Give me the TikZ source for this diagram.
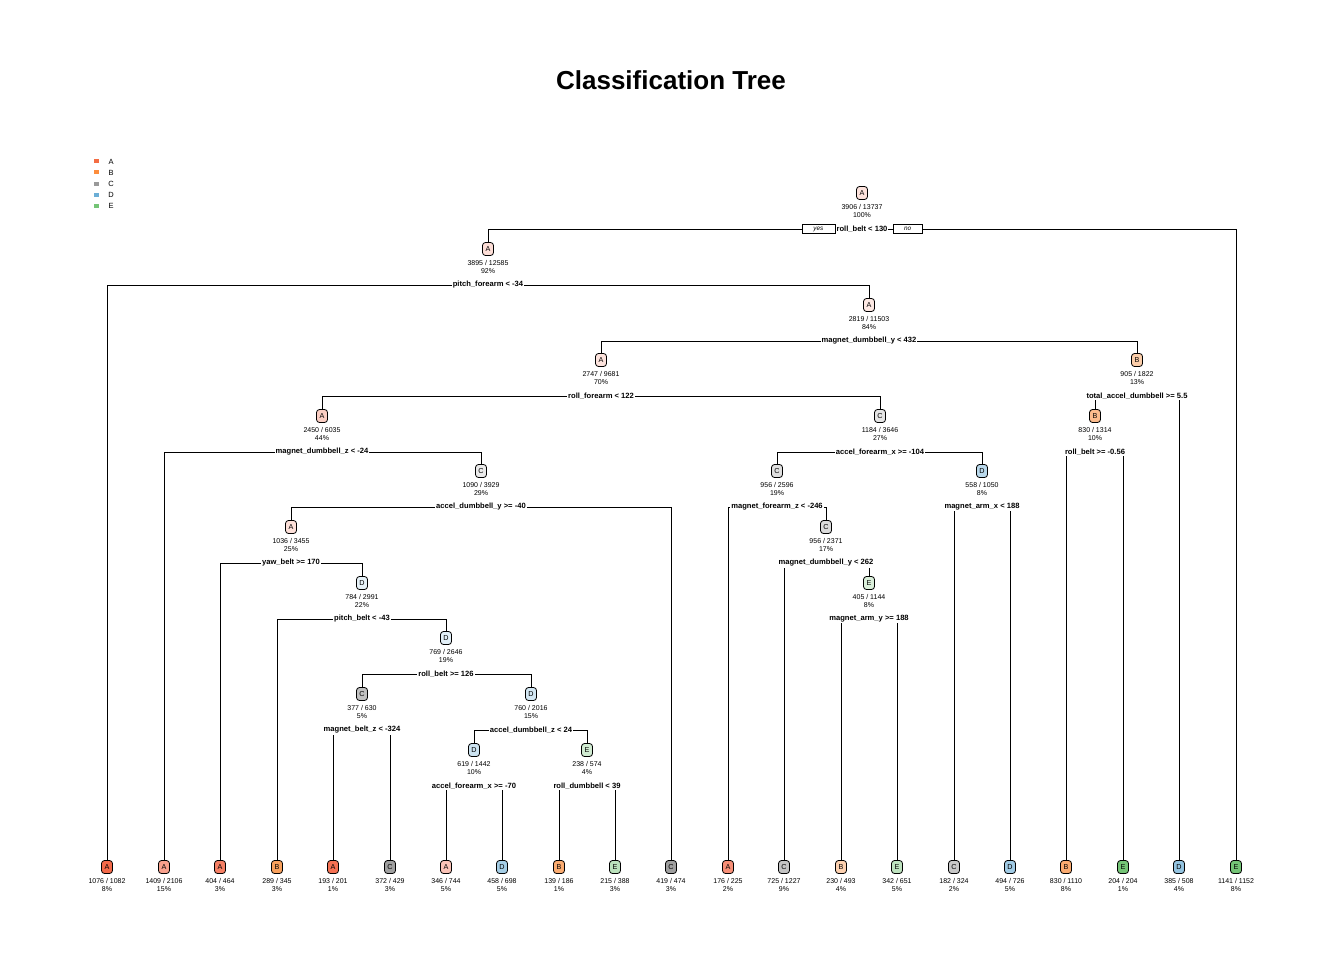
\documentclass[tikz,border=0pt]{standalone}
\usepackage{fontspec}
\setmainfont{Liberation Sans}
\usetikzlibrary{backgrounds}
\definecolor{cA}{HTML}{F46A4A}
\definecolor{cB}{HTML}{F98C3A}
\definecolor{cC}{HTML}{8F8F8F}
\definecolor{cD}{HTML}{6CAED6}
\definecolor{cE}{HTML}{74C476}
\definecolor{lA}{HTML}{F46D43}
\definecolor{lB}{HTML}{FD8D3C}
\definecolor{lC}{HTML}{999999}
\definecolor{lD}{HTML}{6BAED6}
\definecolor{lE}{HTML}{74C476}
\tikzset{
  tbox/.style={draw, rounded corners=3pt, minimum width=11pt, minimum height=13pt,
    inner sep=0pt, line width=0.8pt, font=\fontsize{7.2}{8}\selectfont},
  tnum/.style={inner sep=0pt, font=\fontsize{7}{7.5}\selectfont},
  tsplit/.style={fill=white, inner sep=1pt, font=\bfseries\fontsize{7.6}{8.5}\selectfont},
  tline/.style={line width=0.9pt},
  yn/.style={draw, fill=white, line width=0.8pt, inner sep=0pt, minimum height=9pt,
    font=\itshape\fontsize{6.4}{7}\selectfont},
  legsq/.style={inner sep=0pt, minimum width=5pt, minimum height=4pt},
  legtx/.style={inner sep=0pt, font=\fontsize{7.5}{8}\selectfont}
}
\newcommand\TN[7]{%
  \node[tbox, fill=#5] (#1) at (#2,#3) {#4};
  \node[tnum] (#1n) at (#2,#3+14) {#6};
  \node[tnum] (#1p) at (#2,#3+22) {#7};}
\newcommand\SPL[2]{\node[tsplit] (#1s) at ([yshift=-36pt]#1.center) {#2};}
\newcommand\BR[3]{\draw[tline] (#2.north) -- (#2.north |- #1s.center) -- (#3.north |- #1s.center) -- (#3.north);}
\begin{document}
\begin{tikzpicture}[x=1pt,y=-1pt]
\useasboundingbox (0,0) rectangle (1344,960);
\node[font=\bfseries\fontsize{26}{30}\selectfont] (title) at (671,80) {Classification Tree};
% legend
\foreach \c/\l/\yy in {lA/A/161.5,lB/B/172.5,lC/C/184,lD/D/195,lE/E/206}{
  \node[legsq, fill=\c] (sq\l) at (96,\yy) {};
  \node[legtx] (lg\l) at (111,\yy) {\l};
}
% internal nodes
\TN{n1}{862}{193}{A}{cA!19}{3906 / 13737}{100\%}
\TN{n2}{488}{249}{A}{cA!22}{3895 / 12585}{92\%}
\TN{n5}{869}{305}{A}{cA!15}{2819 / 11503}{84\%}
\TN{n10}{601}{360}{A}{cA!19}{2747 / 9681}{70\%}
\TN{n11}{1137}{360}{B}{cB!43}{905 / 1822}{13\%}
\TN{n20}{322}{416}{A}{cA!33}{2450 / 6035}{44\%}
\TN{n21}{880}{416}{C}{cC!23}{1184 / 3646}{27\%}
\TN{n22}{1095}{416}{B}{cB!58}{830 / 1314}{10\%}
\TN{n41}{481}{471}{C}{cC!18}{1090 / 3929}{29\%}
\TN{n42}{777}{471}{C}{cC!29}{956 / 2596}{19\%}
\TN{n43}{982}{471}{D}{cD!47}{558 / 1050}{8\%}
\TN{n82}{291}{527}{A}{cA!21}{1036 / 3455}{25\%}
\TN{n85}{826}{527}{C}{cC!32}{956 / 2371}{17\%}
\TN{n165}{362}{583}{D}{cD!16}{784 / 2991}{22\%}
\TN{n171}{869}{583}{E}{cE!26}{405 / 1144}{8\%}
\TN{n331}{446}{638}{D}{cD!20}{769 / 2646}{19\%}
\TN{n662}{362}{694}{C}{cC!55}{377 / 630}{5\%}
\TN{n663}{531}{694}{D}{cD!30}{760 / 2016}{15\%}
\TN{n1326}{474}{750}{D}{cD!35}{619 / 1442}{10\%}
\TN{n1327}{587}{750}{E}{cE!33}{238 / 574}{4\%}
% leaves
\TN{n4}{107}{867}{A}{cA!100}{1076 / 1082}{8\%}
\TN{n40}{164}{867}{A}{cA!63}{1409 / 2106}{15\%}
\TN{n164}{220}{867}{A}{cA!85}{404 / 464}{3\%}
\TN{n330}{277}{867}{B}{cB!82}{289 / 345}{3\%}
\TN{n1324}{333}{867}{A}{cA!95}{193 / 201}{1\%}
\TN{n1325}{390}{867}{C}{cC!85}{372 / 429}{3\%}
\TN{n2652}{446}{867}{A}{cA!40}{346 / 744}{5\%}
\TN{n2653}{502}{867}{D}{cD!61}{458 / 698}{5\%}
\TN{n2654}{559}{867}{B}{cB!72}{139 / 186}{1\%}
\TN{n2655}{615}{867}{E}{cE!49}{215 / 388}{3\%}
\TN{n83}{671}{867}{C}{cC!86}{419 / 474}{3\%}
\TN{n84}{728}{867}{A}{cA!75}{176 / 225}{2\%}
\TN{n170}{784}{867}{C}{cC!54}{725 / 1227}{9\%}
\TN{n342}{841}{867}{B}{cB!40}{230 / 493}{4\%}
\TN{n343}{897}{867}{E}{cE!47}{342 / 651}{5\%}
\TN{n86}{954}{867}{C}{cC!50}{182 / 324}{2\%}
\TN{n87}{1010}{867}{D}{cD!64}{494 / 726}{5\%}
\TN{n44}{1066}{867}{B}{cB!72}{830 / 1110}{8\%}
\TN{n45}{1123}{867}{E}{cE!100}{204 / 204}{1\%}
\TN{n23}{1179}{867}{D}{cD!73}{385 / 508}{4\%}
\TN{n3}{1236}{867}{E}{cE!100}{1141 / 1152}{8\%}
% split labels
\SPL{n1}{roll\_belt < 130}
\SPL{n2}{pitch\_forearm < -34}
\SPL{n5}{magnet\_dumbbell\_y < 432}
\SPL{n10}{roll\_forearm < 122}
\SPL{n11}{total\_accel\_dumbbell >= 5.5}
\SPL{n20}{magnet\_dumbbell\_z < -24}
\SPL{n21}{accel\_forearm\_x >= -104}
\SPL{n22}{roll\_belt >= -0.56}
\SPL{n41}{accel\_dumbbell\_y >= -40}
\SPL{n42}{magnet\_forearm\_z < -246}
\SPL{n43}{magnet\_arm\_x < 188}
\SPL{n82}{yaw\_belt >= 170}
\SPL{n85}{magnet\_dumbbell\_y < 262}
\SPL{n165}{pitch\_belt < -43}
\SPL{n171}{magnet\_arm\_y >= 188}
\SPL{n331}{roll\_belt >= 126}
\SPL{n662}{magnet\_belt\_z < -324}
\SPL{n663}{accel\_dumbbell\_z < 24}
\SPL{n1326}{accel\_forearm\_x >= -70}
\SPL{n1327}{roll\_dumbbell < 39}
\node[yn, minimum width=33pt, anchor=east] (yes) at (n1s.west) {yes};
\node[yn, minimum width=29pt, anchor=west] (no) at ([xshift=4pt]n1s.east) {no};
% branches
\begin{pgfonlayer}{background}
\fill[white] (0,0) rectangle (1344,960);
\BR{n1}{n2}{n3}
\BR{n2}{n4}{n5}
\BR{n5}{n10}{n11}
\BR{n10}{n20}{n21}
\BR{n11}{n22}{n23}
\BR{n20}{n40}{n41}
\BR{n21}{n42}{n43}
\BR{n22}{n44}{n45}
\BR{n41}{n82}{n83}
\BR{n42}{n84}{n85}
\BR{n43}{n86}{n87}
\BR{n82}{n164}{n165}
\BR{n85}{n170}{n171}
\BR{n165}{n330}{n331}
\BR{n171}{n342}{n343}
\BR{n331}{n662}{n663}
\BR{n662}{n1324}{n1325}
\BR{n663}{n1326}{n1327}
\BR{n1326}{n2652}{n2653}
\BR{n1327}{n2654}{n2655}
\end{pgfonlayer}
\end{tikzpicture}
\end{document}
